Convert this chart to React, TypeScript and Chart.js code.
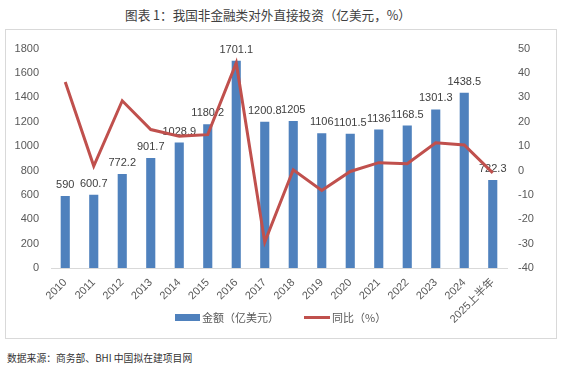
import { useEffect, useRef } from "react";
import { Chart, registerables } from "chart.js";

Chart.register(...registerables);

const categories = [
  "2010", "2011", "2012", "2013", "2014", "2015", "2016", "2017",
  "2018", "2019", "2020", "2021", "2022", "2023", "2024", "2025上半年",
];
const amounts = [
  590, 600.7, 772.2, 901.7, 1028.9, 1180.2, 1701.1, 1200.8,
  1205, 1106, 1101.5, 1136, 1168.5, 1301.3, 1438.5, 722.3,
];
const growth = [
  36.3, 1.8, 28.6, 16.8, 14.1, 14.7, 44.1, -29.4,
  0.3, -8.2, -0.4, 3.2, 2.8, 11.4, 10.5, -1.0,
];
const amountLabel = "金额（亿美元）";
const growthLabel = "同比（%）";
const titleText = "图表 1：我国非金融类对外直接投资（亿美元，%）";
const sourceText = "数据来源：商务部、BHI 中国拟在建项目网";

const BAR_COLOR = "#4F81BD";
const LINE_COLOR = "#C0504D";
const FONT = "'Liberation Sans', 'Noto Sans CJK SC', sans-serif";

const barLabels = {
  id: "barLabels",
  afterDatasetDraw(chart: any, args: any) {
    if (args.index !== 0) return;
    const ctx = chart.ctx;
    ctx.save();
    ctx.font = `11px ${FONT}`;
    ctx.fillStyle = "#404040";
    ctx.textAlign = "center";
    ctx.textBaseline = "alphabetic";
    args.meta.data.forEach((el: any, i: number) => {
      ctx.fillText(String(amounts[i]), el.x, el.y - 8);
    });
    ctx.restore();
  },
};

export default function App() {
  const ref = useRef<HTMLCanvasElement>(null);

  useEffect(() => {
    Chart.defaults.font.family = FONT;
    const chart = new Chart(ref.current!, {
      type: "bar",
      data: {
        labels: categories,
        datasets: [
          {
            type: "bar",
            label: amountLabel,
            data: amounts,
            backgroundColor: BAR_COLOR,
            borderWidth: 0,
            yAxisID: "y",
            order: 1,
            categoryPercentage: 1,
            barPercentage: 0.32,
          } as any,
          {
            type: "line",
            label: growthLabel,
            data: growth,
            borderColor: LINE_COLOR,
            backgroundColor: LINE_COLOR,
            borderWidth: 3,
            pointRadius: 0,
            tension: 0,
            yAxisID: "y1",
            order: 0,
          } as any,
        ],
      },
      options: {
        responsive: false,
        animation: false,
        layout: { padding: { top: 16, bottom: 0, left: 0, right: 0 } },
        plugins: {
          tooltip: { enabled: false },
          title: { display: false },
          legend: { display: false },
        },
        scales: {
          x: {
            offset: true,
            grid: { display: false, drawTicks: false },
            border: { display: true, color: "#D9D9D9", width: 1 },
            ticks: {
              minRotation: 45,
              maxRotation: 45,
              autoSkip: false,
              color: "#595959",
              font: { size: 11 },
              padding: 8,
            },
            afterFit: (s: any) => {
              s.height = 70;
            },
          },
          y: {
            position: "left",
            min: 0,
            max: 1800,
            grid: { display: false, drawTicks: false },
            border: { display: false },
            ticks: {
              stepSize: 200,
              color: "#595959",
              font: { size: 11 },
              padding: 12,
              callback: (v: any) => String(v),
            },
            afterFit: (s: any) => {
              s.width = 45;
            },
          },
          y1: {
            position: "right",
            min: -40,
            max: 50,
            grid: { display: false, drawTicks: false },
            border: { display: false },
            ticks: {
              stepSize: 10,
              color: "#595959",
              font: { size: 11 },
              padding: 11,
              callback: (v: any) => String(v),
            },
            afterFit: (s: any) => {
              s.width = 49;
            },
          },
        },
      },
      plugins: [barLabels],
    });
    return () => chart.destroy();
  }, []);

  const legendText = {
    position: "absolute" as const,
    top: 309,
    font: "11px 'Noto Sans CJK SC', sans-serif",
    lineHeight: "16px",
    color: "#595959",
    whiteSpace: "nowrap" as const,
  };

  return (
    <div
      style={{
        position: "fixed",
        left: 0,
        top: 0,
        width: 561,
        height: 373,
        background: "#fff",
        overflow: "hidden",
      }}
    >
      <div
        style={{
          position: "absolute",
          left: 0,
          top: 5,
          width: 536,
          textAlign: "center",
          font: "12.6px 'Noto Sans CJK SC', sans-serif",
          lineHeight: "20px",
          color: "#404040",
          whiteSpace: "nowrap",
        }}
      >
        {titleText}
      </div>
      <div
        style={{
          position: "absolute",
          left: 5,
          top: 29,
          width: 552,
          height: 310,
          border: "1px solid #D9D9D9",
          boxSizing: "border-box",
        }}
      >
        <canvas
          ref={ref}
          width={550}
          height={308}
          style={{ position: "absolute", left: 0, top: 0, width: 550, height: 308 }}
        />
      </div>
      <div
        style={{
          position: "absolute",
          left: 175,
          top: 314,
          width: 25,
          height: 7,
          background: BAR_COLOR,
        }}
      />
      <div style={{ ...legendText, left: 202 }}>{amountLabel}</div>
      <div
        style={{
          position: "absolute",
          left: 304,
          top: 316,
          width: 26,
          height: 3,
          background: LINE_COLOR,
        }}
      />
      <div style={{ ...legendText, left: 332 }}>{growthLabel}</div>
      <div
        style={{
          position: "absolute",
          left: 7,
          top: 351,
          font: "9.8px 'Noto Sans CJK SC', sans-serif",
          lineHeight: "14px",
          color: "#333",
          whiteSpace: "nowrap",
        }}
      >
        {sourceText}
      </div>
    </div>
  );
}
